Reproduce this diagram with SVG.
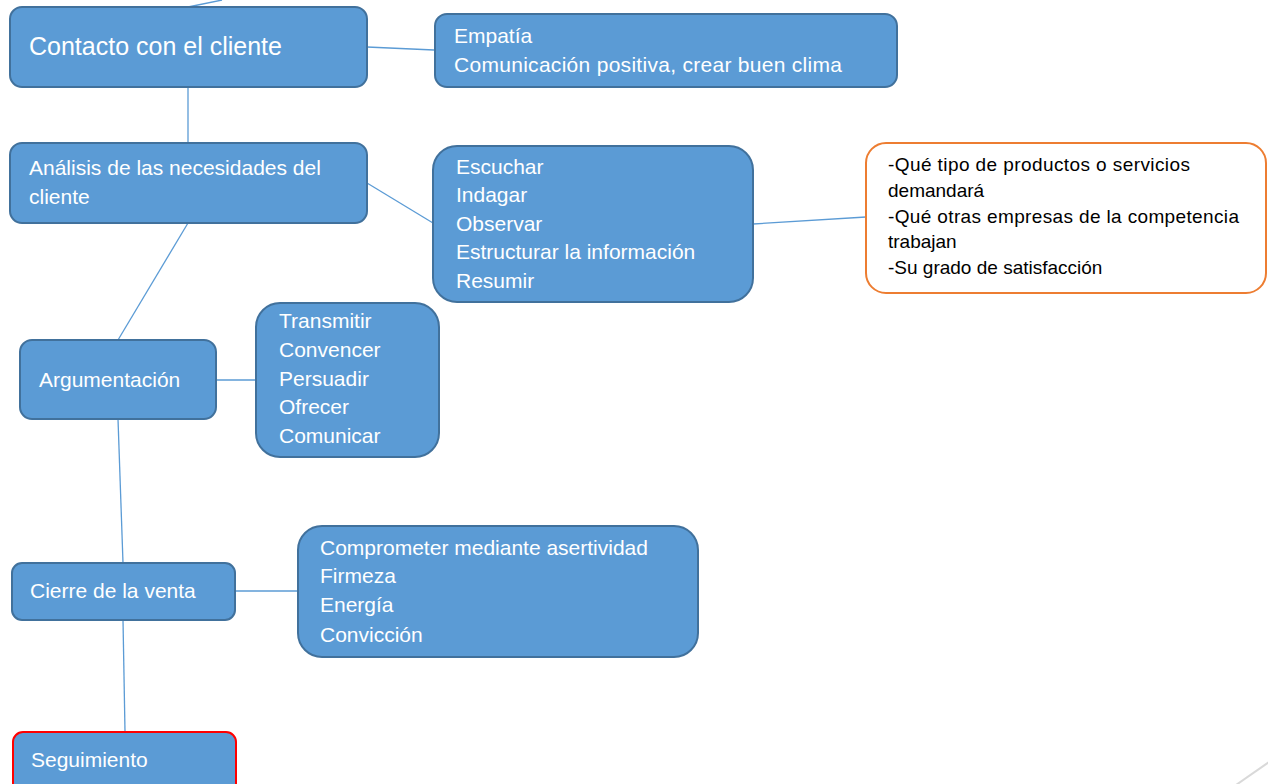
<svg xmlns="http://www.w3.org/2000/svg" width="1268" height="784" viewBox="0 0 1268 784">
<style>
.box{fill:#5B9BD5;stroke:#41719C;stroke-width:2}
.seg{fill:#5B9BD5;stroke:#FF0000;stroke-width:2}
.note{fill:#FFFFFF;stroke:#ED7D31;stroke-width:2}
.t{font-family:"Liberation Sans",Arial,sans-serif;font-size:21px;fill:#FFFFFF}
.big{font-size:25px}
.n{font-family:"Liberation Sans",Arial,sans-serif;font-size:19px;fill:#000000}
#connectors line{stroke:#5B9BD5;stroke-width:1.3}
</style>
<rect width="1268" height="784" fill="#FFFFFF"/>
<g id="connectors">
<line x1="188" y1="7" x2="222" y2="0"/>
<line x1="367" y1="47" x2="434" y2="50"/>
<line x1="188" y1="87" x2="188" y2="143"/>
<line x1="367" y1="183" x2="433" y2="223"/>
<line x1="753" y1="224" x2="866" y2="217"/>
<line x1="188" y1="223" x2="118" y2="340"/>
<line x1="216" y1="380" x2="256" y2="380"/>
<line x1="118" y1="419" x2="123" y2="563"/>
<line x1="235" y1="591" x2="298" y2="591"/>
<line x1="123" y1="620" x2="125" y2="732"/>
</g>
<g id="contacto">
<rect class="box" x="10" y="7" width="357" height="80" rx="12"/>
<text class="t big" x="29" y="55">Contacto con el cliente</text>
</g>
<g id="empatia">
<rect class="box" x="435" y="14" width="462" height="73" rx="12"/>
<text class="t" x="454" y="43">Empatía</text>
<text class="t" x="454" y="72" textLength="388">Comunicación positiva, crear buen clima</text>
</g>
<g id="analisis">
<rect class="box" x="10" y="143" width="357" height="80" rx="12"/>
<text class="t" x="29" y="175">Análisis de las necesidades del</text>
<text class="t" x="29" y="204">cliente</text>
</g>
<g id="escuchar">
<rect class="box" x="433" y="146" width="320" height="156" rx="24"/>
<text class="t" x="456" y="174">Escuchar</text>
<text class="t" x="456" y="202">Indagar</text>
<text class="t" x="456" y="231">Observar</text>
<text class="t" x="456" y="259">Estructurar la información</text>
<text class="t" x="456" y="288">Resumir</text>
</g>
<g id="preguntas">
<rect class="note" x="866" y="143" width="400" height="150" rx="20"/>
<text class="n" x="888" y="171" textLength="302">-Qué tipo de productos o servicios</text>
<text class="n" x="888" y="197">demandará</text>
<text class="n" x="888" y="223" textLength="351">-Qué otras empresas de la competencia</text>
<text class="n" x="888" y="248">trabajan</text>
<text class="n" x="888" y="274">-Su grado de satisfacción</text>
</g>
<g id="argumentacion">
<rect class="box" x="20" y="340" width="196" height="79" rx="12"/>
<text class="t" x="39" y="387">Argumentación</text>
</g>
<g id="transmitir">
<rect class="box" x="256" y="303" width="183" height="154" rx="24"/>
<text class="t" x="279" y="328">Transmitir</text>
<text class="t" x="279" y="357">Convencer</text>
<text class="t" x="279" y="386">Persuadir</text>
<text class="t" x="279" y="414">Ofrecer</text>
<text class="t" x="279" y="443">Comunicar</text>
</g>
<g id="cierre">
<rect class="box" x="12" y="563" width="223" height="57" rx="10"/>
<text class="t" x="30" y="598">Cierre de la venta</text>
</g>
<g id="comprometer">
<rect class="box" x="298" y="526" width="400" height="131" rx="24"/>
<text class="t" x="320" y="555">Comprometer mediante asertividad</text>
<text class="t" x="320" y="583">Firmeza</text>
<text class="t" x="320" y="612">Energía</text>
<text class="t" x="320" y="642">Convicción</text>
</g>
<g id="seguimiento">
<rect class="seg" x="13" y="732" width="223" height="70" rx="10"/>
<text class="t" x="31" y="767">Seguimiento</text>
</g>
<line x1="1236" y1="785" x2="1269" y2="762" stroke="#D9D9D9" stroke-width="2"/>
</svg>
